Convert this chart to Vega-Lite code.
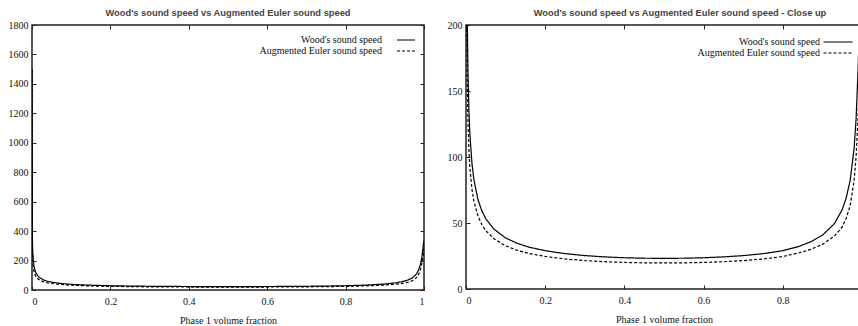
{
  "$schema": "https://vega.github.io/schema/vega-lite/v6.json",
  "background": "white",
  "padding": {"left": 7, "top": 7, "right": 0, "bottom": 0},
  "spacing": 42,
  "bounds": "flush",
  "config": {
    "view": {"stroke": "#222", "strokeWidth": 1.5},
    "axis": {
      "labelFont": "Liberation Serif", "labelFontSize": 10, "labelColor": "#111",
      "titleFont": "Liberation Serif", "titleFontSize": 10, "titleFontWeight": "normal", "titleColor": "#111",
      "tickColor": "#222", "tickSize": -4, "tickWidth": 1, "domain": false, "grid": false
    },
    "legend": {
      "orient": "none", "labelFont": "Liberation Serif", "labelFontSize": 10, "labelColor": "#111",
      "symbolStrokeColor": "black", "symbolStrokeWidth": 1.2, "symbolSize": 100,
      "labelAlign": "right", "title": null, "padding": 0, "rowPadding": -2
    },
    "title": {"font": "Liberation Sans", "fontWeight": "bold", "fontSize": 9.3, "color": "#444", "offset": 2}
  },
  "datasets": {
    "d": [
      {"fraction": 0, "speed": 1500, "series": "Wood's sound speed"},
      {"fraction": 0.001, "speed": 356.7, "series": "Wood's sound speed"},
      {"fraction": 0.002, "speed": 256.0, "series": "Wood's sound speed"},
      {"fraction": 0.003, "speed": 210.1, "series": "Wood's sound speed"},
      {"fraction": 0.005, "speed": 163.6, "series": "Wood's sound speed"},
      {"fraction": 0.0075, "speed": 134.0, "series": "Wood's sound speed"},
      {"fraction": 0.01, "speed": 116.3, "series": "Wood's sound speed"},
      {"fraction": 0.015, "speed": 95.3, "series": "Wood's sound speed"},
      {"fraction": 0.02, "speed": 82.8, "series": "Wood's sound speed"},
      {"fraction": 0.03, "speed": 67.97, "series": "Wood's sound speed"},
      {"fraction": 0.04, "speed": 59.18, "series": "Wood's sound speed"},
      {"fraction": 0.05, "speed": 53.22, "series": "Wood's sound speed"},
      {"fraction": 0.07, "speed": 45.47, "series": "Wood's sound speed"},
      {"fraction": 0.1, "speed": 38.67, "series": "Wood's sound speed"},
      {"fraction": 0.13, "speed": 34.5, "series": "Wood's sound speed"},
      {"fraction": 0.16, "speed": 31.65, "series": "Wood's sound speed"},
      {"fraction": 0.2, "speed": 29.01, "series": "Wood's sound speed"},
      {"fraction": 0.25, "speed": 26.8, "series": "Wood's sound speed"},
      {"fraction": 0.3, "speed": 25.32, "series": "Wood's sound speed"},
      {"fraction": 0.35, "speed": 24.32, "series": "Wood's sound speed"},
      {"fraction": 0.4, "speed": 23.68, "series": "Wood's sound speed"},
      {"fraction": 0.45, "speed": 23.32, "series": "Wood's sound speed"},
      {"fraction": 0.5, "speed": 23.2, "series": "Wood's sound speed"},
      {"fraction": 0.55, "speed": 23.31, "series": "Wood's sound speed"},
      {"fraction": 0.6, "speed": 23.67, "series": "Wood's sound speed"},
      {"fraction": 0.65, "speed": 24.31, "series": "Wood's sound speed"},
      {"fraction": 0.7, "speed": 25.29, "series": "Wood's sound speed"},
      {"fraction": 0.75, "speed": 26.75, "series": "Wood's sound speed"},
      {"fraction": 0.8, "speed": 29.0, "series": "Wood's sound speed"},
      {"fraction": 0.84, "speed": 32.2, "series": "Wood's sound speed"},
      {"fraction": 0.87, "speed": 35.7, "series": "Wood's sound speed"},
      {"fraction": 0.9, "speed": 40.7, "series": "Wood's sound speed"},
      {"fraction": 0.93, "speed": 49.4, "series": "Wood's sound speed"},
      {"fraction": 0.95, "speed": 60.1, "series": "Wood's sound speed"},
      {"fraction": 0.96, "speed": 68.9, "series": "Wood's sound speed"},
      {"fraction": 0.97, "speed": 82.1, "series": "Wood's sound speed"},
      {"fraction": 0.98, "speed": 106.4, "series": "Wood's sound speed"},
      {"fraction": 0.985, "speed": 128.3, "series": "Wood's sound speed"},
      {"fraction": 0.99, "speed": 165.8, "series": "Wood's sound speed"},
      {"fraction": 0.9925, "speed": 190, "series": "Wood's sound speed"},
      {"fraction": 0.995, "speed": 230, "series": "Wood's sound speed"},
      {"fraction": 0.997, "speed": 280, "series": "Wood's sound speed"},
      {"fraction": 0.998, "speed": 300, "series": "Wood's sound speed"},
      {"fraction": 0.999, "speed": 320, "series": "Wood's sound speed"},
      {"fraction": 1, "speed": 335.0, "series": "Wood's sound speed"},
      {"fraction": 0, "speed": 1500, "series": "Augmented Euler sound speed"},
      {"fraction": 0.001, "speed": 272.2, "series": "Augmented Euler sound speed"},
      {"fraction": 0.002, "speed": 196.0, "series": "Augmented Euler sound speed"},
      {"fraction": 0.003, "speed": 161.5, "series": "Augmented Euler sound speed"},
      {"fraction": 0.005, "speed": 126.6, "series": "Augmented Euler sound speed"},
      {"fraction": 0.0075, "speed": 104.5, "series": "Augmented Euler sound speed"},
      {"fraction": 0.01, "speed": 91.3, "series": "Augmented Euler sound speed"},
      {"fraction": 0.015, "speed": 75.8, "series": "Augmented Euler sound speed"},
      {"fraction": 0.02, "speed": 66.5, "series": "Augmented Euler sound speed"},
      {"fraction": 0.03, "speed": 55.5, "series": "Augmented Euler sound speed"},
      {"fraction": 0.04, "speed": 48.8, "series": "Augmented Euler sound speed"},
      {"fraction": 0.05, "speed": 44.25, "series": "Augmented Euler sound speed"},
      {"fraction": 0.07, "speed": 38.18, "series": "Augmented Euler sound speed"},
      {"fraction": 0.1, "speed": 32.7, "series": "Augmented Euler sound speed"},
      {"fraction": 0.13, "speed": 29.26, "series": "Augmented Euler sound speed"},
      {"fraction": 0.16, "speed": 26.87, "series": "Augmented Euler sound speed"},
      {"fraction": 0.2, "speed": 24.65, "series": "Augmented Euler sound speed"},
      {"fraction": 0.25, "speed": 22.78, "series": "Augmented Euler sound speed"},
      {"fraction": 0.3, "speed": 21.52, "series": "Augmented Euler sound speed"},
      {"fraction": 0.35, "speed": 20.67, "series": "Augmented Euler sound speed"},
      {"fraction": 0.4, "speed": 20.13, "series": "Augmented Euler sound speed"},
      {"fraction": 0.45, "speed": 19.82, "series": "Augmented Euler sound speed"},
      {"fraction": 0.5, "speed": 19.72, "series": "Augmented Euler sound speed"},
      {"fraction": 0.55, "speed": 19.81, "series": "Augmented Euler sound speed"},
      {"fraction": 0.6, "speed": 20.12, "series": "Augmented Euler sound speed"},
      {"fraction": 0.65, "speed": 20.66, "series": "Augmented Euler sound speed"},
      {"fraction": 0.7, "speed": 21.5, "series": "Augmented Euler sound speed"},
      {"fraction": 0.75, "speed": 22.74, "series": "Augmented Euler sound speed"},
      {"fraction": 0.8, "speed": 24.6, "series": "Augmented Euler sound speed"},
      {"fraction": 0.84, "speed": 27.3, "series": "Augmented Euler sound speed"},
      {"fraction": 0.87, "speed": 30.0, "series": "Augmented Euler sound speed"},
      {"fraction": 0.9, "speed": 33.8, "series": "Augmented Euler sound speed"},
      {"fraction": 0.93, "speed": 40.0, "series": "Augmented Euler sound speed"},
      {"fraction": 0.95, "speed": 47.0, "series": "Augmented Euler sound speed"},
      {"fraction": 0.96, "speed": 53.5, "series": "Augmented Euler sound speed"},
      {"fraction": 0.97, "speed": 63.0, "series": "Augmented Euler sound speed"},
      {"fraction": 0.98, "speed": 82.0, "series": "Augmented Euler sound speed"},
      {"fraction": 0.985, "speed": 100.0, "series": "Augmented Euler sound speed"},
      {"fraction": 0.99, "speed": 130.0, "series": "Augmented Euler sound speed"},
      {"fraction": 0.9925, "speed": 152.0, "series": "Augmented Euler sound speed"},
      {"fraction": 0.995, "speed": 185.0, "series": "Augmented Euler sound speed"},
      {"fraction": 0.997, "speed": 220.0, "series": "Augmented Euler sound speed"},
      {"fraction": 0.998, "speed": 240.0, "series": "Augmented Euler sound speed"},
      {"fraction": 0.999, "speed": 260.0, "series": "Augmented Euler sound speed"},
      {"fraction": 1, "speed": 280.0, "series": "Augmented Euler sound speed"}
    ]
  },
  "hconcat": [
    {
      "width": 392, "height": 265,
      "title": {"text": "Wood's sound speed vs Augmented Euler sound speed"},
      "data": {"name": "d"},
      "layer": [
        {
          "mark": {"type": "line", "color": "black", "strokeWidth": 1.2, "clip": true},
          "encoding": {
            "x": {"field": "fraction", "type": "quantitative", "scale": {"domain": [0, 1], "nice": false},
                  "axis": {"values": [0, 0.2, 0.4, 0.6, 0.8, 1], "format": "~g", "title": "Phase 1 volume fraction", "labelPadding": 10, "titlePadding": 9}},
            "y": {"field": "speed", "type": "quantitative", "scale": {"domain": [0, 1800], "nice": false},
                  "axis": {"values": [0, 200, 400, 600, 800, 1000, 1200, 1400, 1600, 1800], "format": "d", "title": null, "labelPadding": 8}},
            "strokeDash": {"field": "series", "type": "nominal",
                  "scale": {"domain": ["Wood's sound speed", "Augmented Euler sound speed"], "range": [[1, 0], [3, 2]]},
                  "legend": {"legendX": 368, "legendY": 9, "symbolType": "M-1.8,0H1.8", "labelOffset": -30}}
          }
        },
        {
          "mark": {"type": "line", "opacity": 0, "clip": true},
          "encoding": {
            "x": {"field": "fraction", "type": "quantitative", "axis": {"orient": "top", "values": [0, 0.2, 0.4, 0.6, 0.8, 1], "labels": false, "title": null}},
            "y": {"field": "speed", "type": "quantitative", "axis": {"orient": "right", "values": [0, 200, 400, 600, 800, 1000, 1200, 1400, 1600, 1800], "labels": false, "title": null}},
            "detail": {"field": "series"}
          }
        }
      ],
      "resolve": {"axis": {"x": "independent", "y": "independent"}}
    },
    {
      "width": 396, "height": 264,
      "title": {"text": "Wood's sound speed vs Augmented Euler sound speed - Close up", "dx": 16},
      "data": {"name": "d"},
      "layer": [
        {
          "mark": {"type": "line", "color": "black", "strokeWidth": 1.2, "clip": true},
          "encoding": {
            "x": {"field": "fraction", "type": "quantitative", "scale": {"domain": [0, 1], "nice": false},
                  "axis": {"values": [0, 0.2, 0.4, 0.6, 0.8], "format": "~g", "title": "Phase 1 volume fraction", "labelPadding": 10, "titlePadding": 9}},
            "y": {"field": "speed", "type": "quantitative", "scale": {"domain": [0, 200], "nice": false},
                  "axis": {"values": [0, 50, 100, 150, 200], "title": null, "labelPadding": 8}},
            "strokeDash": {"field": "series", "type": "nominal",
                  "scale": {"domain": ["Wood's sound speed", "Augmented Euler sound speed"], "range": [[1, 0], [3, 2]]},
                  "legend": {"legendX": 366, "legendY": 11, "symbolType": "M-2.9,0H2.9", "labelOffset": -24}}
          }
        },
        {
          "mark": {"type": "line", "opacity": 0, "clip": true},
          "encoding": {
            "x": {"field": "fraction", "type": "quantitative", "axis": {"orient": "top", "values": [0, 0.2, 0.4, 0.6, 0.8, 1], "labels": false, "title": null}},
            "y": {"field": "speed", "type": "quantitative", "axis": {"orient": "right", "values": [0, 50, 100, 150, 200], "labels": false, "title": null}},
            "detail": {"field": "series"}
          }
        }
      ],
      "resolve": {"axis": {"x": "independent", "y": "independent"}}
    }
  ],
  "resolve": {"legend": {"strokeDash": "independent"}}
}
